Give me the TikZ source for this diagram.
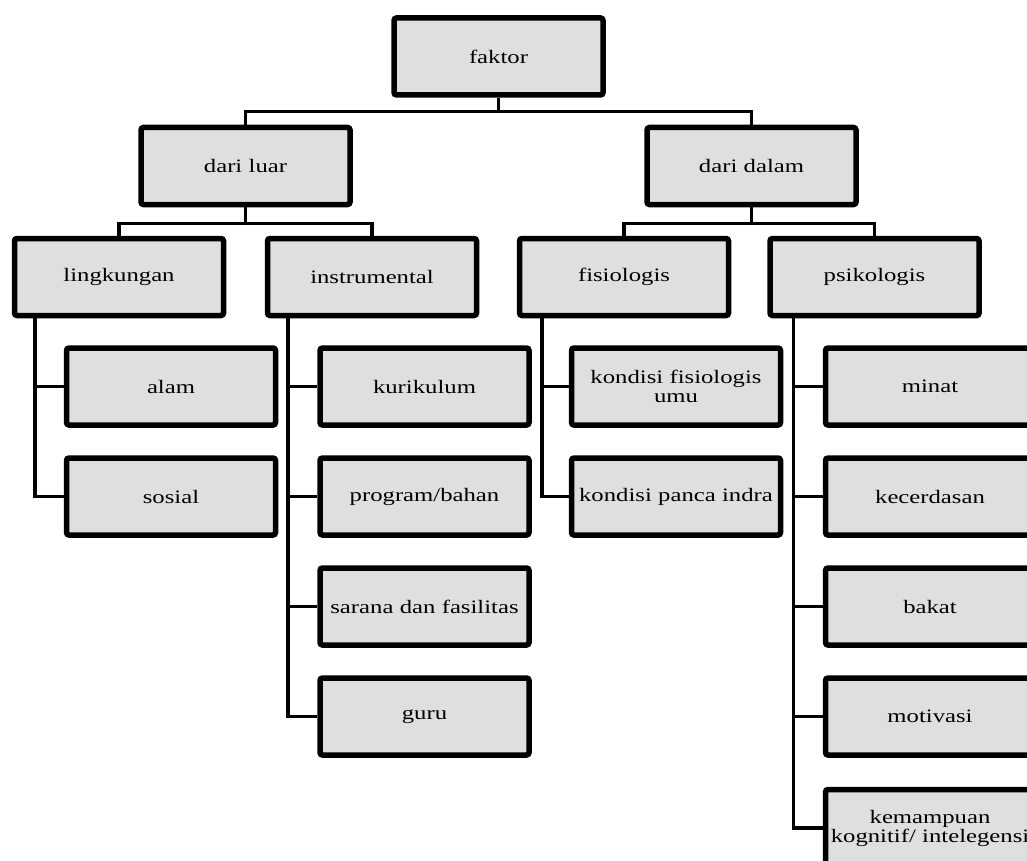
\documentclass[tikz,border=0pt]{standalone}
\usepackage{fontspec}
\setmainfont[FakeStretch=1.3]{Liberation Serif}
\usepackage{tikz}
\usetikzlibrary{shapes,arrows,positioning,shadows}
\definecolor{abu}{HTML}{DFDFDF}
\tikzstyle{kotak} = [draw=black, fill=abu, line width=5.5pt, rectangle, rounded corners=2.5pt, minimum width=209pt, minimum height=77pt, text width=204pt, align=center, inner sep=1pt, font=\fontsize{19}{19}\selectfont, drop shadow={shadow xshift=2pt, shadow yshift=-2pt, opacity=0.25}]
\tikzstyle{garis} = [draw=black, line width=3.5pt]

\begin{document}
\begin{tikzpicture}[x=1pt, y=-1pt]
						\useasboundingbox (0,0) rectangle (1027,861);
						\clip (0,0) rectangle (1027,861);
						% tingkat atas
						\node [kotak] (faktor) at (498.5,56.5) {faktor};
						\node [kotak] (luar) at (245.5,166) {dari luar};
						\node [kotak] (dalam) at (751.5,166) {dari dalam};
						% tingkat dua
						\node [kotak] (lingkungan) at (119,277) {lingkungan};
						\node [kotak] (instrumental) at (372,277) {instrumental};
						\node [kotak] (fisiologis) at (624,277) {fisiologis};
						\node [kotak] (psikologis) at (874.5,277) {psikologis};
						% lingkungan
						\node [kotak] (alam) at (171,386.5) {alam};
						\node [kotak] (sosial) at (171,496.5) {sosial};
						% instrumental
						\node [kotak] (kurikulum) at (424.5,386.5) {kurikulum};
						\node [kotak] (program) at (424.5,496.5) {program/bahan};
						\node [kotak] (sarana) at (424.5,606.5) {sarana dan fasilitas};
						\node [kotak] (guru) at (424.5,716.5) {guru};
						% fisiologis
						\node [kotak] (umum) at (676,386.5) {kondisi fisiologis\\ umu};
						\node [kotak] (indra) at (676,496.5) {kondisi panca indra};
						% psikologis
						\node [kotak] (minat) at (930,386.5) {minat};
						\node [kotak] (cerdas) at (930,496.5) {kecerdasan};
						\node [kotak] (bakat) at (930,606.5) {bakat};
						\node [kotak] (motivasi) at (930,716.5) {motivasi};
						\node [kotak] (kognitif) at (930,828) {kemampuan\\ kognitif/ intelegensi};
						% garis penghubung
						\draw [garis] (faktor.south) -- ++(0,14) -| (luar.north);
						\draw [garis] (faktor.south) -- ++(0,14) -| (dalam.north);
						\draw [garis] (luar.south) -- ++(0,16) -| (lingkungan.north);
						\draw [garis] (luar.south) -- ++(0,16) -| (instrumental.north);
						\draw [garis] (dalam.south) -- ++(0,16) -| (fisiologis.north);
						\draw [garis] (dalam.south) -- ++(0,16) -| (psikologis.north);
						\draw [garis] ([xshift=23pt]lingkungan.south west) |- (alam.west);
						\draw [garis] ([xshift=23pt]lingkungan.south west) |- (sosial.west);
						\draw [garis] ([xshift=23pt]instrumental.south west) |- (kurikulum.west);
						\draw [garis] ([xshift=23pt]instrumental.south west) |- (program.west);
						\draw [garis] ([xshift=23pt]instrumental.south west) |- (sarana.west);
						\draw [garis] ([xshift=23pt]instrumental.south west) |- (guru.west);
						\draw [garis] ([xshift=25pt]fisiologis.south west) |- (umum.west);
						\draw [garis] ([xshift=25pt]fisiologis.south west) |- (indra.west);
						\draw [garis] ([xshift=26pt]psikologis.south west) |- (minat.west);
						\draw [garis] ([xshift=26pt]psikologis.south west) |- (cerdas.west);
						\draw [garis] ([xshift=26pt]psikologis.south west) |- (bakat.west);
						\draw [garis] ([xshift=26pt]psikologis.south west) |- (motivasi.west);
						\draw [garis] ([xshift=26pt]psikologis.south west) |- (kognitif.west);
					\end{tikzpicture}
\end{document}
